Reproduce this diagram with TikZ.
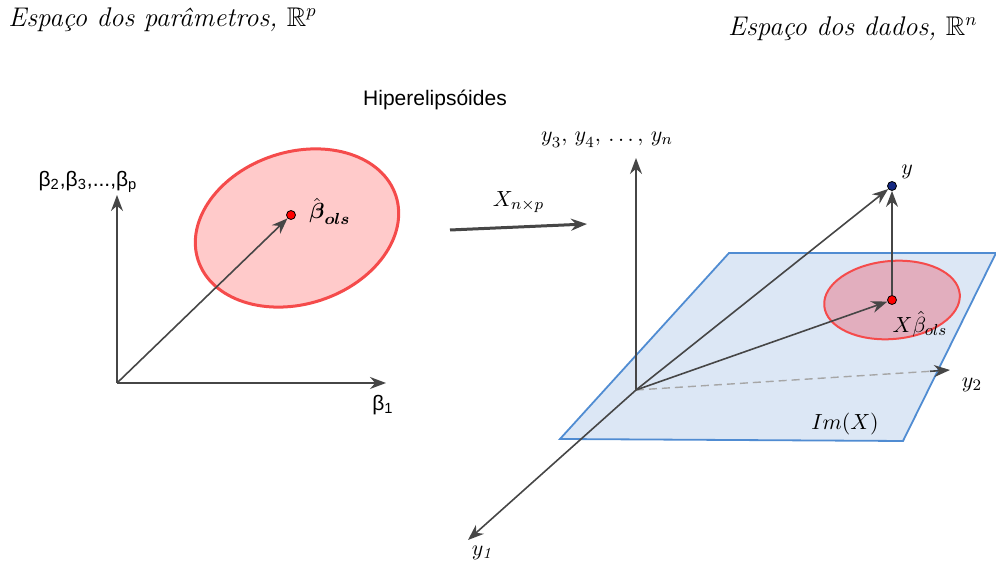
\documentclass[tikz,border=0pt]{standalone}
\usepackage{amsmath,amssymb}
\usepackage{fontspec}
\setsansfont{Liberation Sans}
\usetikzlibrary{arrows.meta}

\definecolor{axisgray}{RGB}{70,70,70}
\definecolor{ellred}{RGB}{245,75,75}
\definecolor{ellpink}{RGB}{255,202,202}
\definecolor{planeedge}{RGB}{80,140,210}
\definecolor{planefill}{RGB}{220,231,245}
\definecolor{ellmauve}{RGB}{226,174,190}
\definecolor{ydot}{RGB}{20,40,130}

\begin{document}
\begin{tikzpicture}[>={Stealth[length=8pt, width=6pt]}, x=0.5pt, y=-0.5pt,
        axis/.style={->, draw=axisgray, line width=0.8pt},
        dot/.style={circle, draw=black, line width=0.4pt, inner sep=0pt, minimum size=4.5pt},
        lbl/.style={font=\fontsize{11}{13}\selectfont},
        sflbl/.style={font=\sffamily\fontsize{10.5}{12}\selectfont},
        title/.style={font=\itshape\fontsize{13.5}{15}\selectfont, inner sep=0pt}]
        \useasboundingbox (0,0) rectangle (996,565);

        % Titles
        \node[title, anchor=base west] (tpar) at (8,27) {Espaço dos parâmetros, $\mathbb{R}^p$};
        \node[title, anchor=base east] (tdad) at (978,36) {Espaço dos dados, $\mathbb{R}^n$};
        \node[sflbl] (hiper) at (435,100) {Hiperelipsóides};

        % 1. Parameter space
        \coordinate (O1) at (117,383);
        \coordinate (b1end) at (386,383);
        \coordinate (b2end) at (117,195);
        \draw[ellred, fill=ellpink, line width=1.5pt, rotate around={18:(297,228)}] (297,228) ellipse [x radius=104, y radius=76];
        \node[dot, fill=red] (bols) at (291,215) {};
        \node[lbl, anchor=west, inner sep=1pt] (bolslbl) at (307,211) {$\hat{\boldsymbol{\beta}}_{\boldsymbol{ols}}$};
        \draw[axis] (O1) -- (b1end);
        \draw[axis] (O1) -- (b2end);
        \draw[axis] (O1) -- (bols);
        \node[sflbl] (b1lbl) at (383,405) {β\textsubscript{1}};
        \node[sflbl] (b2lbl) at (88,182) {β\textsubscript{2},β\textsubscript{3},...,β\textsubscript{p}};

        % 2. Map
        \coordinate (mapA) at (450,230);
        \coordinate (mapB) at (587,224);
        \draw[->, line width=1.5pt, axisgray] (mapA) -- (mapB) node[midway, above=3pt, lbl, black] {$X_{n\times p}$};

        % 3. Data space
        \draw[planeedge, fill=planefill, line width=0.9pt] (729,253) -- (996,253) -- (903,441) -- (560,439) -- cycle;
        \draw[ellred, fill=ellmauve, line width=1pt, rotate around={5:(892,300)}] (892,300) ellipse [x radius=68, y radius=39];
        \node[lbl] (imx) at (845,424) {$Im(X)$};

        \coordinate (O2) at (636,390);
        \coordinate (y3end) at (636,158);
        \coordinate (y1end) at (468,540);
        \coordinate (y2mid) at (930,371.3);
        \coordinate (y2end) at (950,370);
        \draw[axis] (O2) -- (y3end);
        \draw[axis] (O2) -- (y1end);
        \draw[gray!70, line width=0.7pt, dash pattern=on 4pt off 2.5pt] (O2) -- (y2mid);
        \draw[axis] (y2mid) -- (y2end);

        \node[dot, fill=red] (xb) at (892,300) {};
        \node[dot, fill=ydot] (yv) at (892,186) {};
        \draw[axis] (O2) -- (yv);
        \draw[axis] (O2) -- (xb);
        \draw[axis] (xb) -- (yv);

        % Labels
        \node[lbl] (y3lbl) at (607,140) {$y_{\mathnormal{3}},\, y_{\mathnormal{4}},\, \ldots,\, y_n$};
        \node[lbl] (y1lbl) at (482,553) {$y_{\mathit{1}}$};
        \node[lbl] (y2lbl) at (972,385) {$y_2$};
        \node[lbl] (ylbl) at (907,172) {$y$};
        \node[lbl, inner sep=1pt] (xblbl) at (920,324) {$X\hat{\beta}_{ols}$};
\end{tikzpicture}
\end{document}
